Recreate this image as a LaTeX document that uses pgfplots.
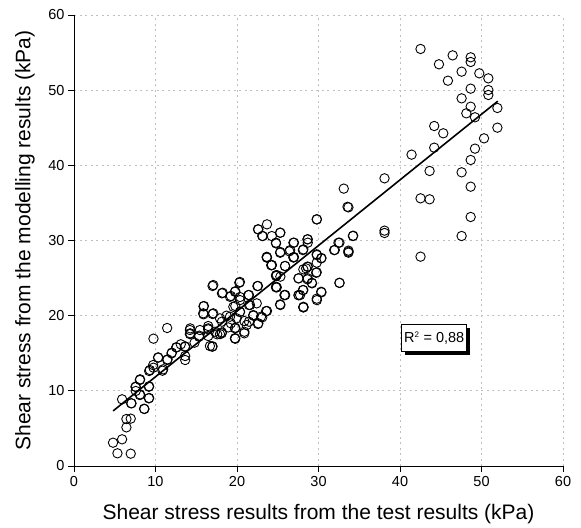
\documentclass[border=0pt]{standalone}
\usepackage{pgfplots}
\pgfplotsset{compat=1.18}
\usepackage{fontspec}
\setmainfont{Liberation Sans}
\usetikzlibrary{shadows}
\pgfplotstableread{
x y
4.79 3.10
5.90 3.55
5.33 1.69
6.96 1.64
6.43 6.25
6.96 6.30
6.43 5.14
5.90 8.87
7.01 8.34
8.64 7.58
9.22 9.05
7.58 10.51
8.11 11.53
8.11 9.53
9.22 10.60
7.58 9.98
9.22 12.64
9.75 13.08
9.75 16.94
10.32 14.41
10.86 12.68
11.43 14.10
11.43 18.36
12.00 15.08
12.54 15.79
13.10 16.19
13.64 15.92
13.64 14.10
13.64 14.63
14.26 18.31
14.26 17.65
14.79 16.41
15.36 17.34
15.89 21.24
15.89 20.18
16.47 18.31
16.47 17.29
17.00 15.92
17.00 23.95
17.00 20.22
17.57 17.52
18.15 17.78
18.15 22.97
18.15 19.20
18.72 20.00
19.25 22.62
19.25 18.98
19.79 23.24
19.79 16.94
19.79 18.40
19.79 21.29
20.36 24.48
20.36 22.48
20.36 20.49
20.90 17.65
20.90 19.29
21.47 22.75
21.47 21.42
21.47 19.20
22.00 20.00
22.57 23.95
22.57 18.89
23.10 19.78
23.68 20.62
23.68 27.72
22.57 31.49
23.68 32.15
23.10 30.60
24.20 26.70
24.78 25.37
24.78 23.77
24.78 29.71
25.32 31.04
25.32 28.47
25.32 25.19
25.32 21.42
25.89 26.61
25.89 22.75
26.42 28.56
26.99 29.71
26.99 27.80
27.56 24.97
27.56 22.71
28.14 28.82
28.14 26.16
28.14 23.41
28.14 21.11
28.68 30.16
28.68 29.71
28.68 26.52
28.68 24.97
29.21 24.30
29.78 32.82
29.78 28.16
29.78 27.05
29.78 25.77
29.78 22.26
30.36 27.67
30.36 23.10
32.00 28.74
32.57 29.71
32.57 24.35
33.10 36.90
33.67 34.41
33.67 28.65
33.67 28.38
34.25 30.64
38.10 38.27
38.10 31.31
38.10 31.00
41.42 41.42
42.52 55.48
42.52 35.61
42.52 27.85
43.63 35.48
43.63 39.25
44.20 45.23
44.20 42.35
44.78 53.44
45.31 44.26
45.88 51.26
46.46 54.63
47.56 52.46
47.56 48.91
47.56 39.07
47.56 30.60
48.14 46.92
48.67 54.37
48.67 53.75
48.67 50.20
48.67 47.80
48.67 40.71
48.67 37.16
48.67 33.13
49.20 46.39
49.20 42.22
49.73 52.24
50.31 43.59
50.84 51.57
50.84 50.02
50.84 49.36
51.95 47.63
51.95 45.01
14.22 18.09
14.22 17.55
15.33 17.20
16.47 18.18
16.68 15.96
17.91 17.55
18.93 18.44
19.75 16.98
12.59 15.78
13.61 15.86
11.97 14.98
11.48 14.19
10.33 14.45
9.71 13.43
9.31 12.77
10.94 12.86
8.08 11.44
7.55 10.55
9.18 10.55
8.08 9.44
9.18 9.00
8.60 7.62
7.06 8.34
23.65 27.83
24.27 26.73
25.29 28.37
24.88 25.40
25.90 26.60
24.80 23.84
25.90 22.74
25.29 21.50
26.93 27.75
17.09 24.07
18.24 23.05
19.14 22.51
20.28 24.38
19.75 23.18
20.37 22.07
21.39 22.74
22.50 23.94
22.42 21.64
21.60 21.41
23.57 20.61
22.95 19.86
15.94 21.28
15.86 20.31
17.09 20.31
19.55 21.18
20.37 20.52
19.96 19.64
19.14 19.86
17.91 19.64
22.00 20.08
22.62 18.98
21.19 18.75
16.47 18.62
17.30 17.86
18.12 17.65
19.75 18.31
20.90 17.86
19.75 16.98
16.96 15.87
15.45 18.09
27.74 22.74
28.15 21.10
28.48 26.29
22.62 31.47
23.16 30.59
24.27 30.59
25.29 31.03
24.79 29.61
26.92 29.70
28.64 30.15
28.08 28.72
26.52 28.72
23.65 27.75
24.27 26.73
26.92 27.75
29.80 28.06
30.33 27.62
28.64 26.50
29.71 25.71
27.54 24.96
28.64 24.83
29.18 24.38
28.08 23.40
27.54 22.74
30.33 23.18
29.80 22.07
25.82 22.74
24.88 23.76
24.80 25.27
33.56 34.48
29.80 32.80
34.22 30.59
32.45 29.70
33.68 28.50
31.92 28.72
32.58 24.38
28.15 21.18
}\pts
\begin{document}
\begin{tikzpicture}
\begin{axis}[
  scale only axis,
  width=489pt, height=451pt,
  xmin=0, xmax=60, ymin=0, ymax=60,
  xtick={0,10,...,60}, ytick={0,10,...,60},
  axis lines=left,
  axis line style={-, line width=0.9pt},
  tick align=outside,
  major tick length=6pt,
  tick style={black, line width=0.8pt},
  grid=major,
  major grid style={gray!50, line width=0.7pt, dash pattern=on 2pt off 3.5pt},
  /pgf/number format/assume math mode=true,
  ticklabel style={font=\fontsize{14.5}{16}\selectfont},
  xticklabel style={yshift=-1pt},
  label style={font=\fontsize{21}{24}\selectfont},
  xlabel={Shear stress results from the test results (kPa)},
  ylabel={Shear stress from the modelling results (kPa)},
  xlabel style={at={(axis description cs:0.5,0)}, anchor=center, yshift=-48pt},
  ylabel style={at={(axis description cs:0,0.5)}, anchor=center, rotate=0, yshift=49pt},
  clip=false,
]
\addplot[only marks, mark=o, mark size=4.7pt, mark options={black, line width=0.9pt, fill=white}] table[x=x,y=y] {\pts};
\addplot[black, line width=1.6pt] coordinates {(4.8,7.33) (52.0,48.54)};
\node[draw=black, fill=white, line width=0.8pt, inner xsep=2.5pt, inner ysep=0pt, minimum height=27pt,
      general shadow={fill=black, shadow xshift=3pt, shadow yshift=-3pt},
      font=\fontsize{14.5}{16}\selectfont] at (axis cs:44.2,17.0) {R\textsuperscript{\fontsize{8}{9}\selectfont 2} = 0,88};
\end{axis}
\path ([shift={(-74pt,-57pt)}]current axis.south west) rectangle ([shift={(18pt,15pt)}]current axis.north east);
\end{tikzpicture}
\end{document}
